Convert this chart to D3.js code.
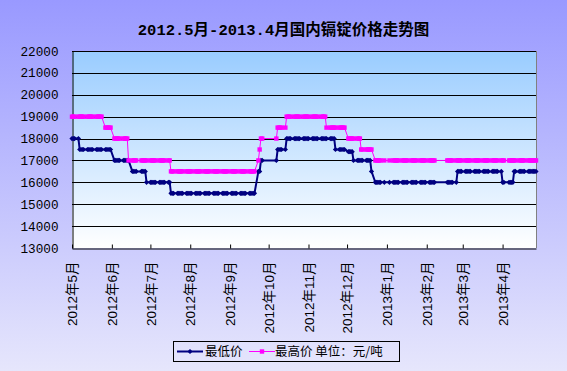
<!DOCTYPE html>
<html>
<head>
<meta charset="utf-8">
<script src="https://cdn.jsdelivr.net/npm/d3@7"></script>
<style>
  body { margin: 0; }
  svg { display: block; }
</style>
</head>
<body>
<div id="chart"></div>
<script>
var title = "2012.5月-2013.4月国内镉锭价格走势图";

var yTicks = [13000, 14000, 15000, 16000, 17000, 18000, 19000, 20000, 21000, 22000];

var monthTicks = ["2012-05-02", "2012-06-02", "2012-07-02", "2012-08-02", "2012-09-02", "2012-10-02",
                  "2012-11-02", "2012-12-02", "2013-01-02", "2013-02-02", "2013-03-02", "2013-04-02"];
var monthLabels = ["2012年5月", "2012年6月", "2012年7月", "2012年8月", "2012年9月", "2012年10月",
                   "2012年11月", "2012年12月", "2013年1月", "2013年2月", "2013年3月", "2013年4月"];

var firstDay = "2012-05-02";
var lastDay = "2013-04-28";

// price changes (date the new price starts, price)
var lowChanges = [["2012-05-02", 18000], ["2012-05-08", 17500], ["2012-06-04", 17000], ["2012-06-18", 16500],
                  ["2012-06-29", 16000], ["2012-07-18", 15500], ["2012-09-24", 16500], ["2012-09-26", 17000],
                  ["2012-10-09", 17500], ["2012-10-16", 18000], ["2012-11-23", 17500], ["2012-12-03", 17400],
                  ["2012-12-07", 17000], ["2012-12-21", 16500], ["2012-12-24", 16000], ["2013-02-26", 16500],
                  ["2013-04-02", 16000], ["2013-04-11", 16500]];

var highChanges = [["2012-05-02", 19000], ["2012-05-28", 18500], ["2012-06-04", 18000], ["2012-06-15", 17000],
                   ["2012-07-18", 16500], ["2012-09-24", 17000], ["2012-09-25", 17500], ["2012-09-26", 18000],
                   ["2012-10-09", 18500], ["2012-10-16", 19000], ["2012-11-16", 18500], ["2012-12-03", 18000],
                   ["2012-12-13", 17500], ["2012-12-24", 17000]];

// days without quotes
var noTradeRanges = [["2012-06-22", "2012-06-22"], ["2012-09-28", "2012-10-07"], ["2013-01-01", "2013-01-03"],
                     ["2013-02-09", "2013-02-17"], ["2013-04-04", "2013-04-05"]];
var extraWorkDays = ["2013-04-07", "2013-04-27", "2013-04-28"];

var seriesNames = ["最低价", "最高价 单位：元/吨"];
var seriesColors = ["#000080", "#FF00FF"];

//////////////////// build daily series ////////////////////
var parse = d3.timeParse("%Y-%m-%d");

var holidaySet = new Set();
noTradeRanges.forEach(function(r) {
  d3.timeDay.range(parse(r[0]), d3.timeDay.offset(parse(r[1]), 1)).forEach(function(d) { holidaySet.add(+d); });
});
var extraSet = new Set(extraWorkDays.map(function(s) { return +parse(s); }));

var days = d3.timeDay.range(parse(firstDay), d3.timeDay.offset(parse(lastDay), 1)).filter(function(d) {
  if (extraSet.has(+d)) return true;
  var w = d.getDay();
  return w !== 0 && w !== 6 && !holidaySet.has(+d);
});

function stepSeries(changes) {
  var ch = changes.map(function(c) { return {date: parse(c[0]), value: c[1]}; });
  var bis = d3.bisector(function(c) { return c.date; }).right;
  return days.map(function(d) { return {date: d, value: ch[bis(ch, d) - 1].value}; });
}

var lowData = stepSeries(lowChanges);
var highData = stepSeries(highChanges);

//////////////////// svg ////////////////////
var W = 567, H = 371;
var plot = {left: 72, right: 536, top: 51, bottom: 248};

var svg = d3.select("#chart").append("svg")
    .attr("width", W)
    .attr("height", H);

var defs = svg.append("defs");
var bg = defs.append("linearGradient").attr("id", "bgGrad")
    .attr("x1", 0).attr("y1", 0).attr("x2", 0).attr("y2", 1);
bg.append("stop").attr("offset", "0%").attr("stop-color", "#9999FF");
bg.append("stop").attr("offset", "100%").attr("stop-color", "#E6E6FC");

var pg = defs.append("linearGradient").attr("id", "plotGrad")
    .attr("x1", 0).attr("y1", 0).attr("x2", 0).attr("y2", 1);
pg.append("stop").attr("offset", "0%").attr("stop-color", "#99CCFF");
pg.append("stop").attr("offset", "100%").attr("stop-color", "#FFFFFF");

svg.append("rect")
    .attr("width", W).attr("height", H)
    .attr("fill", "url(#bgGrad)");

var x = d3.scaleTime()
    .domain([parse(firstDay), parse(lastDay)])
    .range([plot.left, plot.right]);

var y = d3.scaleLinear()
    .domain([13000, 22000])
    .range([plot.bottom, plot.top]);

svg.append("rect")
    .attr("x", plot.left).attr("y", plot.top)
    .attr("width", plot.right - plot.left).attr("height", plot.bottom - plot.top)
    .attr("fill", "url(#plotGrad)");

// right border of plot area
svg.append("line")
    .attr("x1", plot.right + 0.5).attr("x2", plot.right + 0.5)
    .attr("y1", plot.top).attr("y2", plot.bottom)
    .attr("stroke", "#808080");

//////////////////// title ////////////////////
svg.append("text")
    .attr("x", W / 2)
    .attr("y", 35)
    .attr("text-anchor", "middle")
    .attr("font-family", "'Liberation Mono', 'Noto Sans CJK SC'")
    .attr("font-weight", "bold")
    .attr("font-size", 15.5)
    .attr("fill", "#000")
    .text(title);

//////////////////// grid + axes ////////////////////
svg.append("g")
    .attr("class", "grid")
  .selectAll("line")
  .data(yTicks.slice(1))
  .enter().append("line")
    .attr("x1", plot.left).attr("x2", plot.right)
    .attr("y1", function(d) { return Math.round(y(d)) + 0.5; })
    .attr("y2", function(d) { return Math.round(y(d)) + 0.5; })
    .attr("stroke", "#000");

var y_axis = d3.axisLeft(y).tickValues(yTicks).tickSize(0).tickPadding(14)
    .tickFormat(d3.format("d"));
var gy = svg.append("g")
    .attr("transform", "translate(" + (plot.left + 0.5) + ",0)")
    .call(y_axis);
gy.select(".domain").attr("stroke", "#000");
gy.selectAll("text")
    .attr("font-family", "'Liberation Mono', monospace")
    .attr("font-size", 12.7)
    .attr("fill", "#000");

var tickDates = monthTicks.map(parse);
var x_axis = d3.axisBottom(x).tickValues(tickDates).tickSizeInner(-4).tickSizeOuter(0)
    .tickFormat(function(d, i) { return monthLabels[i]; });
var gx = svg.append("g")
    .attr("transform", "translate(0," + (plot.bottom + 0.5) + ")")
    .call(x_axis);
gx.select(".domain").attr("stroke", "#000");
gx.selectAll(".tick line").attr("stroke", "#000");
gx.selectAll("text")
    .attr("font-family", "'Liberation Sans', 'Noto Sans CJK SC'")
    .attr("font-size", 13.5)
    .attr("fill", "#000")
    .attr("transform", "rotate(-90)")
    .attr("text-anchor", "end")
    .attr("x", -13)
    .attr("y", 0)
    .attr("dy", "0.35em");

//////////////////// lines ////////////////////
var line = d3.line()
    .x(function(d) { return x(d.date); })
    .y(function(d) { return y(d.value); });

svg.append("path")
    .datum(lowData)
    .attr("d", line)
    .attr("fill", "none")
    .attr("stroke", seriesColors[0])
    .attr("stroke-width", 2);

svg.append("g").selectAll("path")
    .data(lowData)
    .enter().append("path")
    .attr("transform", function(d) { return "translate(" + x(d.date) + "," + y(d.value) + ")"; })
    .attr("d", "M0,-2.6L2.6,0L0,2.6L-2.6,0Z")
    .attr("fill", seriesColors[0]);

svg.append("path")
    .datum(highData)
    .attr("d", line)
    .attr("fill", "none")
    .attr("stroke", seriesColors[1])
    .attr("stroke-width", 1);

svg.append("g").selectAll("rect")
    .data(highData)
    .enter().append("rect")
    .attr("x", function(d) { return x(d.date) - 2.2; })
    .attr("y", function(d) { return y(d.value) - 2.2; })
    .attr("width", 4.4)
    .attr("height", 4.4)
    .attr("fill", seriesColors[1]);

//////////////////// legend ////////////////////
var legend = svg.append("g").attr("class", "legend");
legend.append("rect")
    .attr("x", 173.5).attr("y", 341.5)
    .attr("width", 226).attr("height", 20)
    .attr("fill", "none")
    .attr("stroke", "#000");

var lx = [177, 249];
var tx = [205, 275];
var ly = 351.5;
seriesNames.forEach(function(name, i) {
  legend.append("line")
      .attr("x1", lx[i]).attr("x2", lx[i] + 26)
      .attr("y1", ly).attr("y2", ly)
      .attr("stroke", seriesColors[i])
      .attr("stroke-width", i === 0 ? 2 : 1);
  if (i === 0) {
    legend.append("path")
        .attr("transform", "translate(" + (lx[i] + 13) + "," + ly + ")")
        .attr("d", "M0,-2.6L2.6,0L0,2.6L-2.6,0Z")
        .attr("fill", seriesColors[i]);
  } else {
    legend.append("rect")
        .attr("x", lx[i] + 13 - 2.2).attr("y", ly - 2.2)
        .attr("width", 4.4).attr("height", 4.4)
        .attr("fill", seriesColors[i]);
  }
  legend.append("text")
      .attr("x", tx[i])
      .attr("y", ly + 4.5)
      .attr("font-family", "'Noto Sans CJK SC', sans-serif")
      .attr("font-size", 12.5)
      .attr("fill", "#000")
      .style("white-space", "pre")
      .text(name);
});
</script>
</body>
</html>
